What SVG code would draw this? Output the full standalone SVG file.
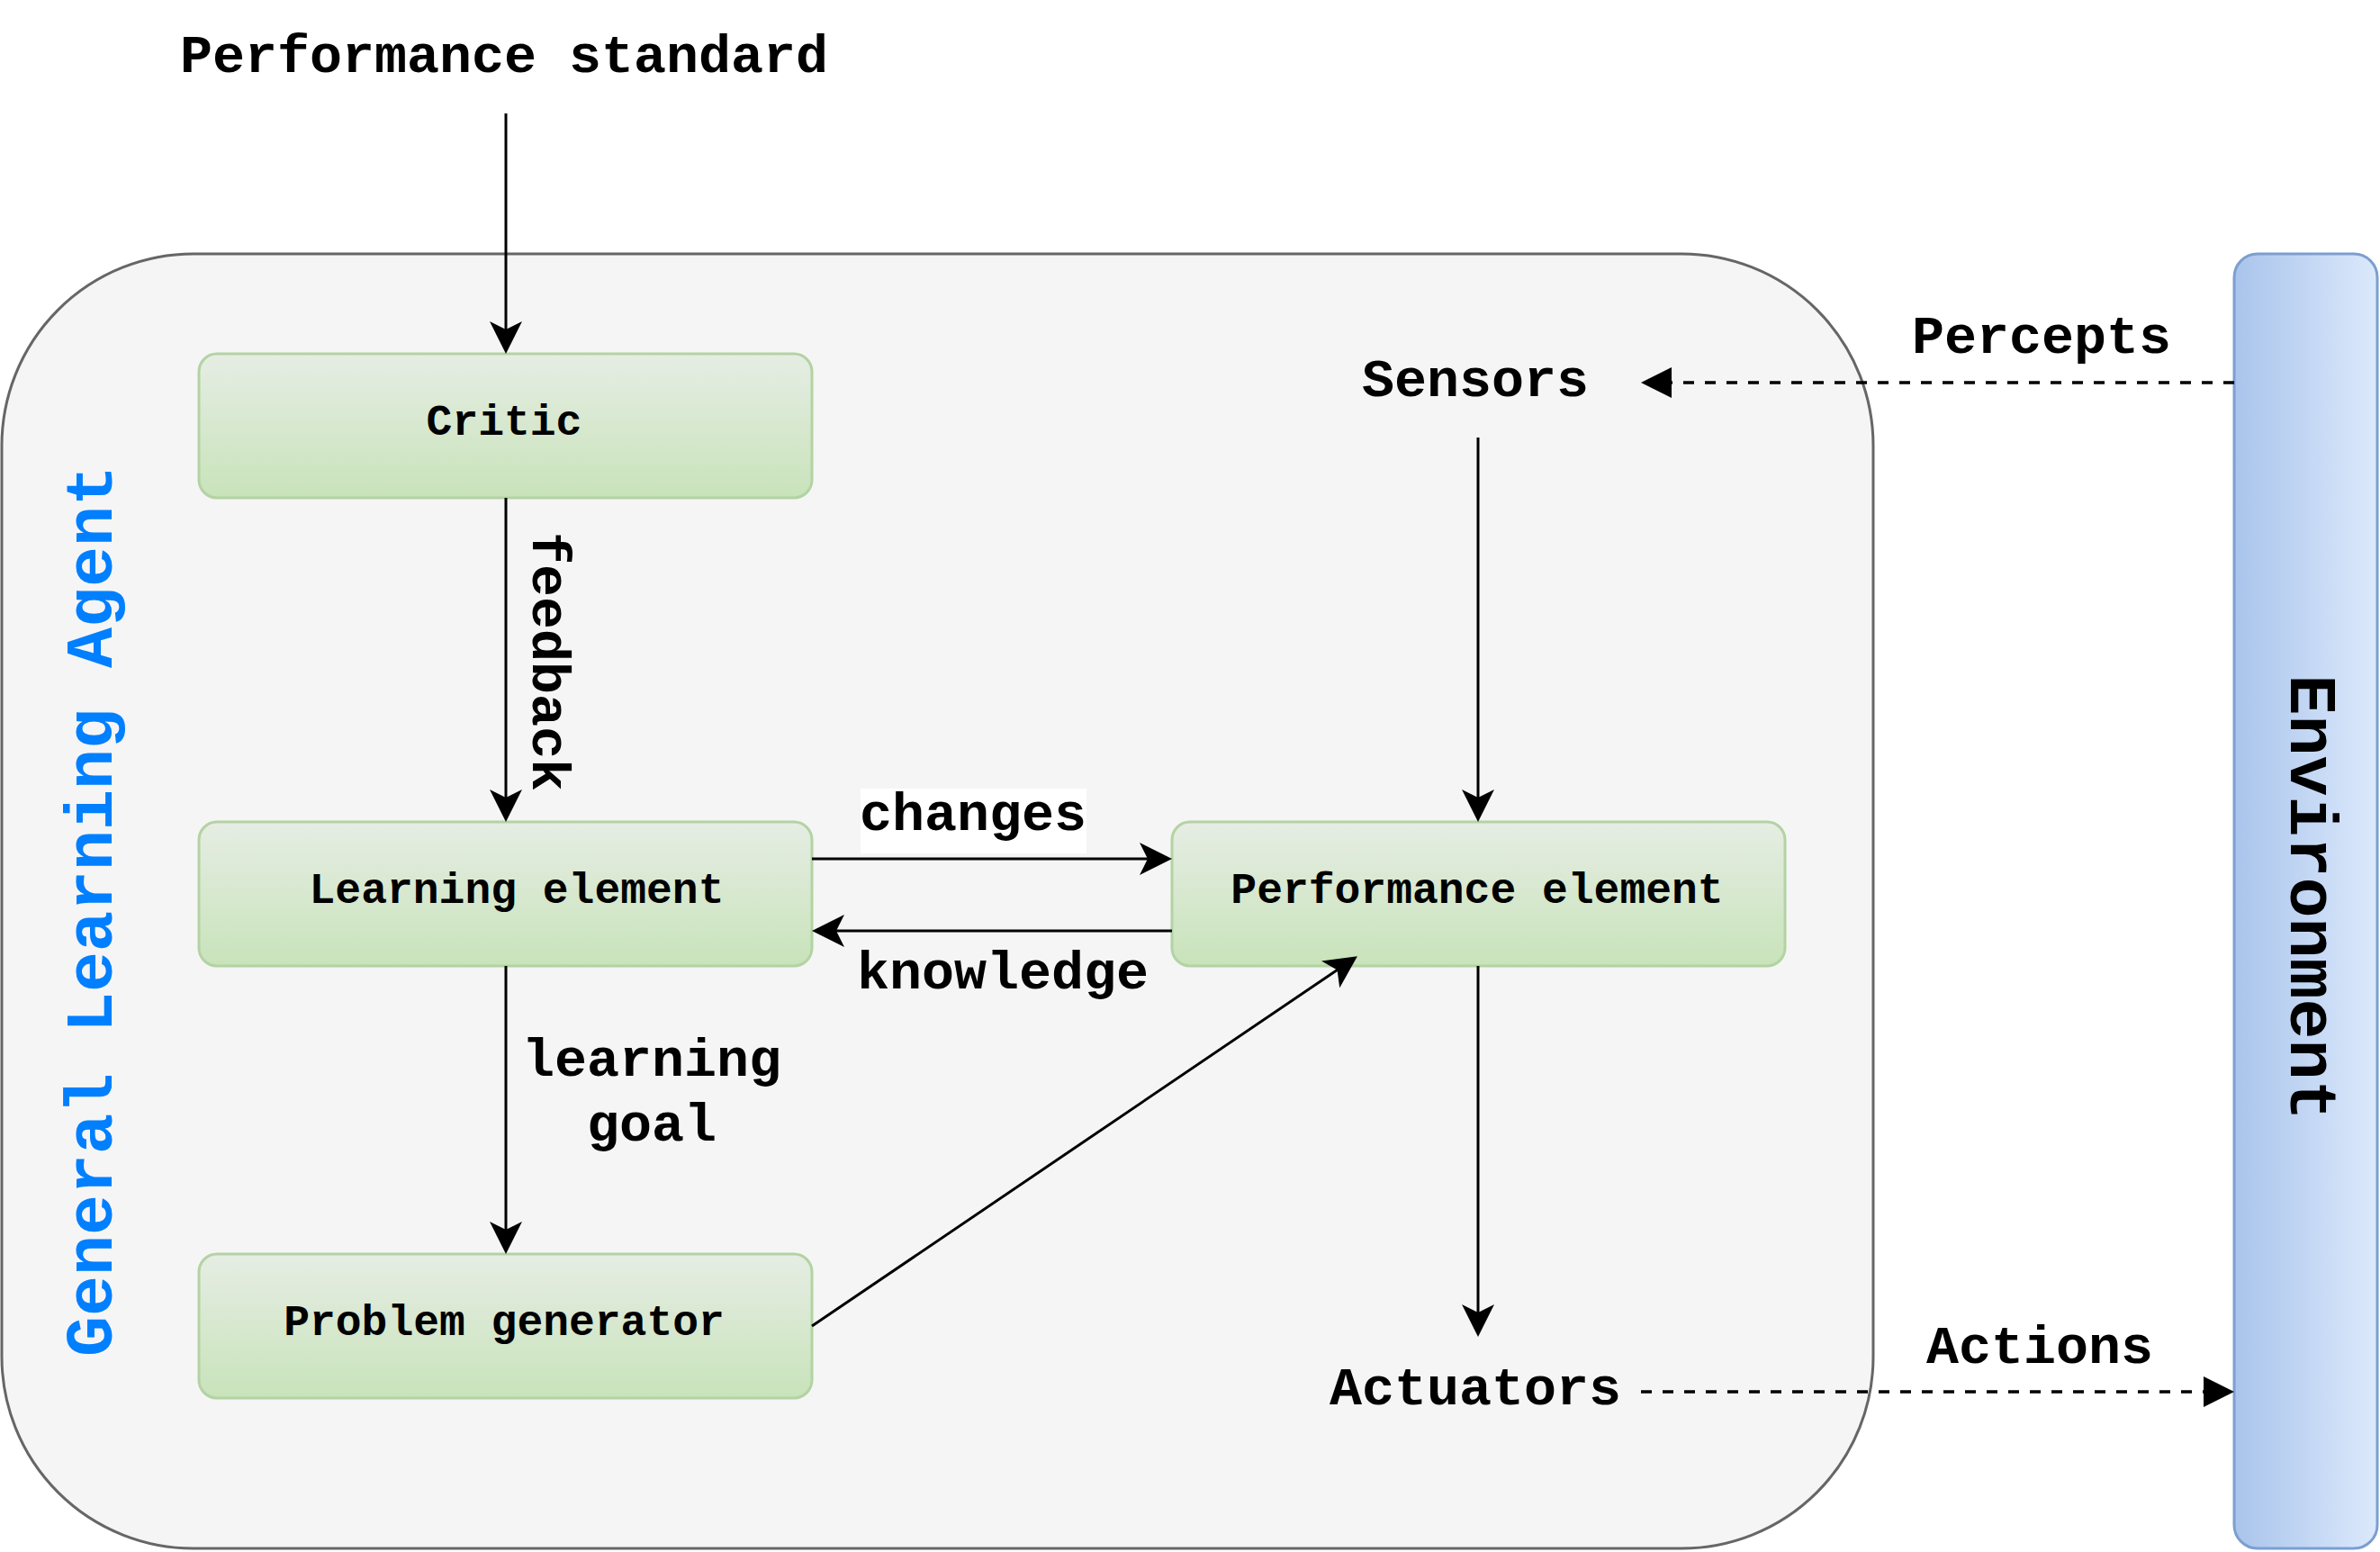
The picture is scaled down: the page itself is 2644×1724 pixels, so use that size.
<svg xmlns="http://www.w3.org/2000/svg" width="2644" height="1724" viewBox="0 0 2644 1724">
<style>
text{font-family:"Liberation Mono","DejaVu Sans Mono",monospace;font-weight:bold;fill:#000}
.lbl{font-size:60px}
.node{font-size:48px}
.big{font-size:75px}
.box{fill:url(#gGreen);stroke:#b3d3a3;stroke-width:3}
.edge{fill:none;stroke:#000;stroke-width:3}
.dash{fill:none;stroke:#000;stroke-width:3.5;stroke-dasharray:12 12}
</style>
<defs>
<linearGradient id="gGreen" x1="0" y1="0" x2="0" y2="1">
<stop offset="0" stop-color="#e6ede4"/>
<stop offset="1" stop-color="#c8e3ba"/>
</linearGradient>
<linearGradient id="gBlue" x1="0" y1="0" x2="1" y2="0">
<stop offset="0" stop-color="#a9c4eb"/>
<stop offset="1" stop-color="#dce9fc"/>
</linearGradient>
<marker id="classic" markerUnits="userSpaceOnUse" viewBox="0 0 36 36" markerWidth="36" markerHeight="36" refX="24" refY="18" orient="auto">
<path d="M0,0 L36,18 L0,36 L9,18 Z" fill="#000" stroke="none"/>
</marker>
<marker id="block" markerUnits="userSpaceOnUse" viewBox="0 0 34 34" markerWidth="34" markerHeight="34" refX="22" refY="17" orient="auto">
<path d="M0,0 L34,17 L0,34 Z" fill="#000" stroke="none"/>
</marker>
</defs>
<rect width="2644" height="1724" fill="#fff"/>

<g id="agent">
<rect x="2" y="282" width="2079" height="1438" rx="213" ry="213" fill="#f5f5f5" stroke="#666" stroke-width="3"/>
<text class="big" transform="translate(124,1012) rotate(-90)" text-anchor="middle" style="fill:#007fff">General Learning Agent</text>
</g>

<g id="environment">
<rect x="2482" y="282" width="159" height="1438" rx="26" ry="26" fill="url(#gBlue)" stroke="#7c9fd0" stroke-width="3"/>
<text class="big" transform="translate(2545,997) rotate(90)" text-anchor="middle">Environment</text>
</g>

<g id="performance-standard"><text class="lbl" x="560" y="80" text-anchor="middle">Performance standard</text></g>
<g id="sensors"><text class="lbl" x="1639" y="440" text-anchor="middle">Sensors</text></g>
<g id="actuators"><text class="lbl" x="1639" y="1560" text-anchor="middle">Actuators</text></g>

<g id="critic">
<rect class="box" x="221" y="393" width="681" height="160" rx="20"/>
<text class="node" x="560" y="483" text-anchor="middle">Critic</text>
</g>
<g id="learning-element">
<rect class="box" x="221" y="913" width="681" height="160" rx="20"/>
<text class="node" x="574" y="1003" text-anchor="middle">Learning element</text>
</g>
<g id="problem-generator">
<rect class="box" x="221" y="1393" width="681" height="160" rx="20"/>
<text class="node" x="560" y="1483" text-anchor="middle">Problem generator</text>
</g>
<g id="performance-element">
<rect class="box" x="1302" y="913" width="681" height="160" rx="20"/>
<text class="node" x="1641" y="1003" text-anchor="middle">Performance element</text>
</g>

<g id="connectors">
<path class="edge" d="M562,126 L562,381" marker-end="url(#classic)"/>
<path class="edge" d="M562,553 L562,901" marker-end="url(#classic)"/>
<path class="edge" d="M562,1073 L562,1381" marker-end="url(#classic)"/>
<path class="edge" d="M902,954 L1290,954" marker-end="url(#classic)"/>
<path class="edge" d="M1302,1034 L914,1034" marker-end="url(#classic)"/>
<path class="edge" d="M1642,486 L1642,901" marker-end="url(#classic)"/>
<path class="edge" d="M1642,1073 L1642,1473" marker-end="url(#classic)"/>
<path class="edge" d="M902,1473 L1498,1069" marker-end="url(#classic)"/>
<path class="dash" d="M2482,425 L1835,425" marker-end="url(#block)"/>
<path class="dash" d="M1823,1546 L2470,1546" marker-end="url(#block)"/>

<text class="lbl" transform="translate(592,735) rotate(90)" text-anchor="middle">feedback</text>
<rect x="956" y="876" width="251" height="72" fill="#fff"/>
<text class="lbl" x="1081" y="922" text-anchor="middle">changes</text>
<text class="lbl" x="1114" y="1098" text-anchor="middle">knowledge</text>
<text class="lbl" x="724" y="1195" text-anchor="middle">learning</text>
<text class="lbl" x="724" y="1267" text-anchor="middle">goal</text>
<text class="lbl" x="2268" y="392" text-anchor="middle">Percepts</text>
<text class="lbl" x="2266" y="1514" text-anchor="middle">Actions</text>
</g>
</svg>
